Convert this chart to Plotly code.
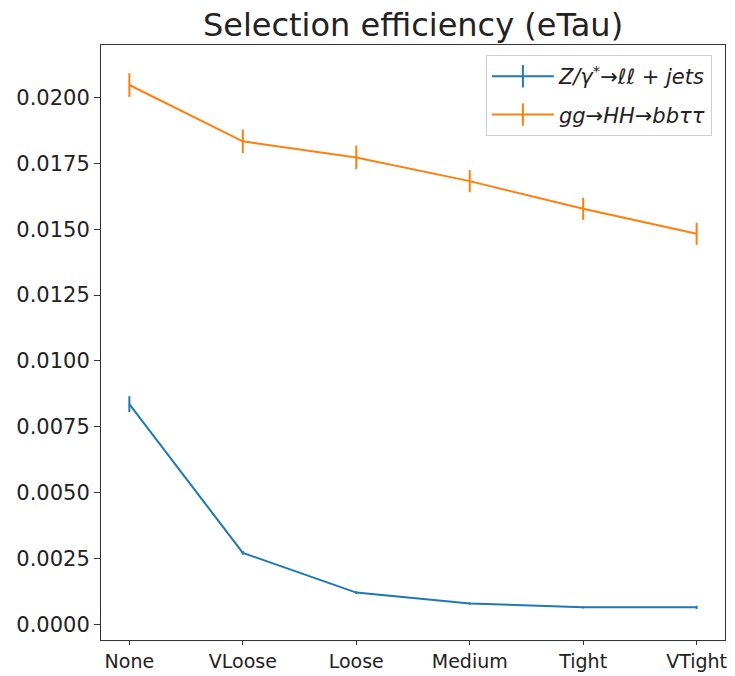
import plotly.graph_objects as go

categories = ["None", "VLoose", "Loose", "Medium", "Tight", "VTight"]
dy_eff = [0.00836, 0.00271, 0.00120, 0.00079, 0.00064, 0.00064]
dy_err = [0.00030, 0.00007, 0.00005, 0.00004, 0.00004, 0.00006]
hh_eff = [0.02048, 0.01834, 0.01773, 0.01683, 0.01578, 0.01483]
hh_err = [0.00045, 0.00045, 0.00045, 0.00042, 0.00042, 0.00042]
y_ticks = [0.0, 0.0025, 0.005, 0.0075, 0.01, 0.0125, 0.015, 0.0175, 0.02]

blue = "#1f77b4"
orange = "#ff7f0e"
names = ["<i>Z/γ<sup>*</sup>→ℓℓ + jets</i>", "<i>gg→HH→bbττ</i>"]

xi = list(range(len(categories)))
fig = go.Figure()
for k, (y, e, c, n) in enumerate([(dy_eff, dy_err, blue, names[0]), (hh_eff, hh_err, orange, names[1])]):
    fig.add_trace(go.Scatter(
        x=xi, y=y, mode="lines", line=dict(color=c, width=2),
        error_y=dict(type="data", array=e, color=c, thickness=2, width=0),
        showlegend=False))
    fig.add_trace(go.Scatter(
        x=[None], y=[None], mode="lines+markers", name=n, legendgroup=f"g{k}",
        line=dict(color=c, width=2),
        marker=dict(symbol="line-ns-open", size=22, color=c, line=dict(color=c, width=2))))

fig.update_layout(
    width=735, height=676,
    margin=dict(l=101, r=10, t=45, b=36),
    paper_bgcolor="white", plot_bgcolor="white",
    font=dict(family="DejaVu Sans", color="#222222", size=20),
    title=dict(text="Selection efficiency (eTau)", x=0.5, xref="paper", xanchor="center",
               y=1 - 25 / 676, yanchor="middle", font=dict(size=32, color="#222222")),
    legend=dict(x=0.979, y=0.983, xanchor="right", yanchor="top",
                bgcolor="rgba(255,255,255,0.8)", bordercolor="#d0d0d0", borderwidth=1,
                font=dict(size=21, color="#222222", family="DejaVu Sans"),
                itemwidth=62, tracegroupgap=8),
)
fig.update_xaxes(
    range=[-0.25, len(categories) - 0.75], tickmode="array", tickvals=xi, ticktext=categories,
    showgrid=False, zeroline=False, showline=True, linecolor="#333333", linewidth=1, mirror=True,
    ticks="outside", ticklen=4, tickcolor="#333333", tickfont=dict(size=19), automargin=False)
fig.update_yaxes(
    range=[-0.0006, 0.0220], tickmode="array", tickvals=y_ticks,
    ticktext=[f"{v:.4f}" for v in y_ticks],
    showgrid=False, zeroline=False, showline=True, linecolor="#333333", linewidth=1, mirror=True,
    ticks="outside", ticklen=6, tickcolor="#333333", tickfont=dict(size=21), automargin=False)

fig.write_html("out.html")
